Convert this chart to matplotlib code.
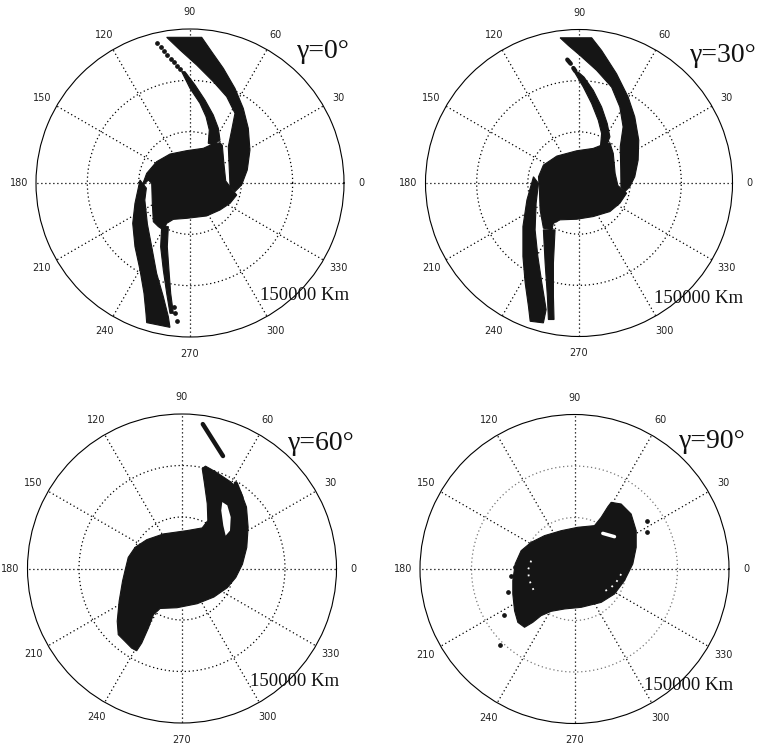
import numpy as np
import matplotlib
matplotlib.use("Agg")
import matplotlib.pyplot as plt

W, H = 762, 748
RMAX = 150                      # outer circle = 150000 km (units: 1000 km)
ring_r = [50, 100]
spoke_deg = list(range(0, 360, 30))
angle_labels = [str(a) for a in spoke_deg]
gamma_labels = ["γ=0°", "γ=30°", "γ=60°", "γ=90°"]
scale_label = "150000 Km"

# ---------------- data: region boundaries, (x, y) in 1000 km ----------------
# gamma = 0
g0_band_up = [(-22.7, 141.9), (11.4, 141.9), (21.1, 127.9), (32.5, 111.7), (43.8, 92.2),
              (51.9, 72.7), (56.8, 53.2), (58.4, 32.1), (55.8, 12.7), (50.3, -1.9),
              (43.8, -8.4), (39.0, -3.6), (38.3, 12.7), (37.3, 35.4), (40.6, 51.6),
              (43.8, 67.9), (35.7, 84.1), (22.7, 98.7), (6.5, 114.9), (-9.7, 129.5)]
g0_strand_up = [(-8.1, 108.4), (0.0, 92.2), (9.7, 77.6), (15.6, 64.6), (18.8, 51.6),
                (17.8, 38.7), (22.7, 37.0), (29.2, 41.9), (27.6, 53.3), (22.7, 66.2),
                (14.6, 80.8), (4.9, 95.5), (-4.9, 108.4)]
g0_blob = [(-47.0, -3.6), (-42.2, 9.4), (-32.5, 20.8), (-19.5, 28.2), (-3.2, 31.5),
           (13.0, 33.8), (20.1, 37.0), (29.2, 39.3), (31.5, 36.5), (33.0, 19.2),
           (34.8, 2.0), (40.0, -5.0), (45.5, -11.7), (39.0, -19.8), (29.2, -26.3),
           (16.2, -32.1), (-3.2, -34.4), (-16.2, -35.4), (-22.7, -39.3), (-26.0, -45.8),
           (-30.8, -42.5), (-35.7, -37.7), (-36.7, -19.8), (-37.3, -0.3), (-40.6, 2.9)]
g0_strand_low = [(-27.6, -42.5), (-28.6, -62.0), (-26.0, -84.7), (-22.7, -107.5), (-19.5, -126.9),
                 (-16.2, -126.9), (-18.8, -107.5), (-20.5, -84.7), (-22.1, -62.0), (-21.1, -42.5)]
g0_band_low = [(-48.7, 2.9), (-53.6, -19.8), (-55.8, -39.3), (-53.6, -62.0), (-48.7, -84.7),
               (-44.8, -107.5), (-42.9, -126.9), (-42.2, -136.0), (-19.5, -140.6), (-21.1, -130.2),
               (-26.0, -110.7), (-32.5, -88.0), (-37.3, -62.0), (-41.5, -40.0), (-44.0, -16.6),
               (-42.5, -5.0)]
g0_dots = [(-31.8, 136.0), (-28.6, 132.1), (-25.3, 128.6), (-22.1, 125.0), (-18.8, 121.1),
           (-15.6, 117.5), (-12.3, 114.0), (-9.7, 110.7), (-16.0, -120.5), (-14.6, -126.6),
           (-12.7, -134.4)]

# gamma = 30
g30_band_up = [(-18.5, 141.9), (12.4, 141.9), (22.1, 129.5), (36.7, 106.8), (48.0, 84.1),
               (54.5, 64.6), (58.4, 41.9), (57.8, 22.4), (54.5, 6.1), (49.7, -3.6),
               (44.8, -8.5), (41.0, -3.6), (40.8, 12.7), (40.3, 35.4), (43.1, 54.8),
               (39.9, 74.3), (31.8, 93.8), (17.2, 110.1), (1.0, 124.7), (-10.4, 134.4)]
g30_strand_up = [(-3.9, 107.5), (4.2, 93.8), (12.4, 77.6), (18.8, 61.4), (22.1, 48.4),
                 (21.1, 37.0), (27.0, 37.0), (30.2, 45.1), (27.6, 58.1), (22.1, 74.3),
                 (13.9, 90.6), (4.9, 103.5), (-0.7, 108.4)]
g30_blob = [(-39.6, 6.1), (-34.8, 17.5), (-21.7, 26.3), (-2.2, 31.5), (13.9, 33.8),
            (22.1, 37.0), (30.2, 39.3), (33.5, 28.9), (35.3, 9.4), (38.0, -2.5),
            (46.5, -10.0), (39.9, -19.8), (30.2, -27.9), (13.9, -32.8), (-2.2, -35.4),
            (-18.5, -36.0), (-25.0, -39.3), (-26.6, -45.8), (-34.8, -44.1), (-38.0, -26.3),
            (-38.7, -6.8)]
g30_strand_low = [(-34.8, -45.8), (-33.1, -78.2), (-30.9, -110.7), (-29.9, -133.4),
                  (-24.4, -133.4), (-25.0, -110.7), (-25.0, -78.2), (-23.4, -45.8)]
g30_band_low = [(-44.5, 6.1), (-50.9, -16.6), (-54.8, -42.5), (-54.8, -71.8), (-52.6, -97.7),
                (-49.4, -120.5), (-47.7, -135.1), (-34.8, -136.7), (-32.1, -123.7), (-36.3, -97.7),
                (-40.2, -71.8), (-42.9, -45.8), (-41.9, -19.8), (-39.6, -0.3)]
g30_dashes = [[(-11.4, 120.5), (-8.1, 116.6)], [(-5.5, 112.3), (-3.6, 109.4)]]

# gamma = 60
g60_blob = [(-55.4, -2.3), (-52.2, 10.8), (-45.6, 20.5), (-34.2, 28.0), (-17.9, 33.6),
            (4.9, 36.8), (19.6, 39.4), (25.1, 46.6), (24.5, 62.9), (21.8, 82.5),
            (19.6, 97.1), (22.8, 99.4), (32.6, 93.9), (47.3, 84.1), (57.1, 74.3),
            (62.6, 59.7), (64.2, 40.1), (62.9, 20.5), (58.7, 4.2), (52.2, -8.8),
            (44.0, -18.6), (31.0, -27.7), (14.7, -34.2), (-4.9, -38.1), (-21.2, -38.8),
            (-27.7, -44.7), (-32.6, -57.7), (-39.1, -72.4), (-44.0, -79.9), (-48.9, -77.3),
            (-55.4, -70.7), (-61.9, -64.2), (-62.9, -51.2), (-61.0, -31.6), (-57.7, -12.1)]
g60_hole = [(39.1, 64.5), (44.0, 61.3), (47.3, 49.9), (46.6, 36.8), (42.4, 31.9),
            (40.1, 41.7), (38.1, 56.4)]
g60_streaks = [[(20.2, 140.2), (39.8, 109.2)], [(52.2, 82.5), (57.7, 68.8)]]

# gamma = 90
g90_blob = [(35.6, 64.7), (45.3, 63.1), (55.0, 53.4), (59.9, 37.2), (59.9, 21.0),
            (56.6, 4.9), (48.5, -11.3), (38.8, -24.3), (25.9, -32.4), (6.5, -37.2),
            (-9.7, -38.8), (-22.7, -41.1), (-32.4, -45.3), (-40.5, -51.8), (-48.5, -56.6),
            (-55.0, -51.8), (-58.2, -40.5), (-59.9, -24.3), (-59.9, -11.3), (-57.6, 4.9),
            (-51.8, 17.8), (-42.1, 25.9), (-29.1, 32.4), (-12.9, 37.2), (3.2, 40.5),
            (19.4, 42.1), (25.9, 50.2), (32.4, 60.5)]
g90_hole = [(27.5, 34.6), (38.8, 31.4)]
g90_speck_right = [(45.3, -4.9), (40.5, -12.9), (35.6, -17.8), (27.5, -22.7)]
g90_speck_left = [(-42.1, 8.1), (-45.3, -1.6), (-43.7, -11.3), (-38.8, -22.7)]
g90_dots = [(70.2, 46.9), (70.5, 35.6), (-64.7, -22.7), (-68.9, -44.3), (-72.2, -73.5),
            (-62.1, -6.5), (-58.2, 1.6), (-53.4, 8.1), (-48.5, 12.9), (-40.5, 19.4)]

panels = [
    dict(center=(190, 183), R=154, fills=[g0_band_up, g0_strand_up, g0_blob, g0_strand_low, g0_band_low],
         holes=[], lines=g0_dots and [], dots=g0_dots, ring_color="k",
         gamma_xy=(297, 51), scale_xy=(260, 295)),
    dict(center=(579, 183), R=153.5, fills=[g30_band_up, g30_strand_up, g30_blob, g30_strand_low, g30_band_low],
         holes=[], lines=g30_dashes, dots=[], ring_color="k",
         gamma_xy=(690, 56), scale_xy=(654, 299)),
    dict(center=(182, 568.5), R=154.5, fills=[g60_blob], holes=[g60_hole], lines=g60_streaks,
         dots=[], ring_color="k", gamma_xy=(288, 443), scale_xy=(250, 681)),
    dict(center=(574.5, 569), R=154.5, fills=[g90_blob], holes=[], lines=[], dots=g90_dots,
         ring_color="#777777", gamma_xy=(679, 441), scale_xy=(644, 685),
         white_lines=[g90_hole], white_dotted=[g90_speck_right, g90_speck_left]),
]

INK = "#151515"
fig = plt.figure(figsize=(W / 100, H / 100), dpi=100)


def to_polar(pts):
    a = np.asarray(pts, dtype=float)
    return np.arctan2(a[:, 1], a[:, 0]), np.hypot(a[:, 0], a[:, 1])


for p, glab in zip(panels, gamma_labels):
    cx, cy = p["center"]
    R = p["R"]
    ax = fig.add_axes([(cx - R) / W, (H - cy - R) / H, 2 * R / W, 2 * R / H], projection="polar")
    ax.set_ylim(0, RMAX)
    ax.set_xticks([])
    ax.set_yticks([])
    ax.grid(False)
    ax.spines["polar"].set_linewidth(0.8)
    ax.spines["polar"].set_color("k")

    th = np.linspace(0, 2 * np.pi, 400)
    for rr in ring_r:
        ax.plot(th, np.full_like(th, rr), color=p["ring_color"], lw=0.9, ls=(0, (1, 2.2)), zorder=1)
    for a in spoke_deg:
        t = np.deg2rad(a)
        ax.plot([t, t], [0, RMAX], color="k", lw=0.9, ls=(0, (1, 2.2)), zorder=1)
    for a, lab in zip(spoke_deg, angle_labels):
        ax.text(np.deg2rad(a), RMAX * 1.11, lab, ha="center", va="center", fontsize=7,
                family="DejaVu Sans", color="#222222", clip_on=False)

    for poly in p["fills"]:
        t, r = to_polar(poly)
        ax.fill(t, r, color=INK, lw=0.8, ec=INK, zorder=3)
    for poly in p["holes"]:
        t, r = to_polar(poly)
        ax.fill(t, r, color="white", lw=0, zorder=4)
    for seg in p["lines"]:
        t, r = to_polar(seg)
        ax.plot(t, r, color=INK, lw=3.2, solid_capstyle="round", zorder=3)
    for seg in p.get("white_lines", []):
        t, r = to_polar(seg)
        ax.plot(t, r, color="white", lw=2.5, solid_capstyle="round", zorder=4)
    for seg in p.get("white_dotted", []):
        t, r = to_polar(seg)
        ax.plot(t, r, color="white", lw=1.3, ls=(0, (1, 3)), zorder=4)
    if p["dots"]:
        t, r = to_polar(p["dots"])
        ax.plot(t, r, "o", ms=2.4, color=INK, mec=INK, zorder=3)

    gx, gy = p["gamma_xy"]
    fig.text(gx / W, 1 - gy / H, glab, ha="left", va="center", fontsize=20,
             family="Liberation Serif", color="#111111")
    sx, sy = p["scale_xy"]
    fig.text(sx / W, 1 - sy / H, scale_label, ha="left", va="center", fontsize=13.5,
             family="Liberation Serif", color="#111111")

fig.savefig("out.png", dpi=100, facecolor="white")
